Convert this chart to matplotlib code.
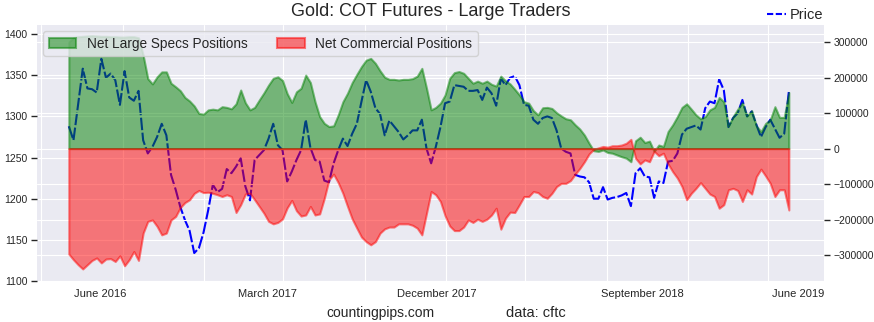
import numpy as np
import pandas as pd
import matplotlib
matplotlib.use('Agg')
import matplotlib.pyplot as plt
import matplotlib.dates as mdates
from matplotlib.ticker import NullFormatter
import seaborn as sns

# weekly COT readings, gold futures
price = [1288, 1271, 1315, 1358, 1334, 1333, 1329, 1370, 1347, 1352,
         1344, 1314, 1355, 1323, 1319, 1331, 1271, 1255, 1263, 1275,
         1291, 1277, 1229, 1211, 1190, 1174, 1161, 1134, 1140, 1159,
         1186, 1217, 1208, 1212, 1236, 1231, 1239, 1249, 1215, 1198,
         1247, 1253, 1259, 1273, 1291, 1265, 1259, 1221, 1233, 1247,
         1259, 1296, 1262, 1247, 1245, 1222, 1220, 1243, 1259, 1273,
         1264, 1279, 1291, 1318, 1344, 1330, 1310, 1303, 1277, 1295,
         1288, 1281, 1272, 1277, 1283, 1283, 1296, 1261, 1243, 1263,
         1287, 1316, 1318, 1338, 1337, 1336, 1331, 1331, 1332, 1320,
         1335, 1328, 1313, 1346, 1338, 1347, 1349, 1338, 1314, 1313,
         1296, 1291, 1298, 1300, 1298, 1283, 1261, 1257, 1255, 1229,
         1227, 1226, 1220, 1200, 1200, 1214, 1199, 1201, 1202, 1204,
         1207, 1191, 1231, 1237, 1227, 1226, 1201, 1221, 1219, 1245,
         1246, 1255, 1278, 1285, 1287, 1289, 1284, 1310, 1318, 1316,
         1345, 1332, 1287, 1298, 1304, 1320, 1300, 1306, 1290, 1275,
         1287, 1296, 1285, 1274, 1279, 1330]

large_specs = [300000, 312000, 315000, 316000, 317000, 318000, 317000, 316000, 316000, 315000,
               315000, 314000, 314000, 315000, 315000, 312000, 263000, 197000, 182000, 202000,
               216000, 216000, 184000, 174000, 163000, 144000, 134000, 120000, 99000, 97000,
               109000, 111000, 109000, 118000, 116000, 112000, 126000, 165000, 129000, 109000,
               116000, 137000, 157000, 179000, 198000, 202000, 192000, 155000, 130000, 160000,
               170000, 207000, 186000, 132000, 90000, 71000, 62000, 64000, 95000, 132000,
               156000, 186000, 209000, 231000, 249000, 254000, 240000, 219000, 201000, 195000,
               195000, 193000, 195000, 195000, 197000, 204000, 226000, 170000, 109000, 116000,
               128000, 151000, 198000, 214000, 217000, 212000, 198000, 184000, 190000, 184000,
               190000, 181000, 176000, 204000, 191000, 182000, 167000, 151000, 132000, 128000,
               107000, 95000, 115000, 116000, 113000, 101000, 92000, 84000, 81000, 67000,
               55000, 38000, 15000, -6000, -8000, -4000, -11000, -13000, -18000, -23000,
               -27000, -37000, 22000, 32000, 17000, 21000, -8000, 10000, 6000, 48000,
               67000, 90000, 116000, 126000, 111000, 95000, 84000, 90000, 109000, 116000,
               144000, 132000, 64000, 90000, 111000, 129000, 92000, 107000, 64000, 48000,
               71000, 81000, 118000, 88000, 88000, 158000]

commercials = [-297000, -313000, -327000, -339000, -327000, -315000, -308000, -322000, -311000, -310000,
               -318000, -302000, -330000, -313000, -290000, -315000, -238000, -205000, -201000, -219000,
               -243000, -238000, -201000, -191000, -166000, -152000, -144000, -126000, -118000, -124000,
               -123000, -126000, -130000, -135000, -130000, -135000, -180000, -158000, -128000, -126000,
               -144000, -163000, -182000, -205000, -212000, -208000, -198000, -167000, -146000, -175000,
               -190000, -187000, -163000, -187000, -184000, -140000, -88000, -72000, -96000, -126000,
               -163000, -198000, -224000, -249000, -262000, -271000, -262000, -238000, -226000, -221000,
               -221000, -212000, -212000, -212000, -216000, -224000, -243000, -182000, -121000, -130000,
               -149000, -189000, -218000, -231000, -231000, -221000, -201000, -208000, -199000, -205000,
               -199000, -187000, -168000, -227000, -196000, -179000, -180000, -158000, -135000, -135000,
               -121000, -124000, -135000, -140000, -126000, -107000, -98000, -98000, -90000, -72000,
               -56000, -37000, -15000, -2000, 2000, 6000, 4000, 8000, 8000, 10000,
               15000, 26000, -27000, -43000, -32000, -37000, -8000, -20000, -13000, -43000,
               -65000, -83000, -107000, -144000, -126000, -112000, -96000, -112000, -128000, -135000,
               -168000, -158000, -116000, -112000, -118000, -149000, -116000, -128000, -79000, -58000,
               -77000, -98000, -135000, -116000, -116000, -173000]

dates = pd.date_range('2016-06-12', periods=len(price), freq='7D')

label_dates = pd.to_datetime(['2016-07-30', '2017-04-07', '2017-12-18', '2018-10-24', '2019-06-16'])
label_text = ['June 2016', 'March 2017', 'December 2017', 'September 2018', 'June 2019']

sns.set_style('darkgrid')
plt.rcParams['font.family'] = ['Liberation Sans', 'DejaVu Sans']

fig = plt.figure(figsize=(8.74, 3.22), dpi=100)
ax1 = fig.add_axes([0.0423, 0.1273, 0.9005, 0.795])

ax1.plot(dates, price, color='blue', linestyle=(0, (6, 1.2)), linewidth=1.5, label='Price')
ax1.set_xlim(pd.Timestamp('2016-04-25'), pd.Timestamp('2019-07-25'))
ax1.set_ylim(1100, 1411)
ax1.set_yticks(np.arange(1100, 1401, 50))
ax1.tick_params(axis='y', left=True, length=4, width=1, color='#262626', labelsize=7.5, pad=3)

ax1.xaxis.set_major_locator(mdates.MonthLocator(bymonth=[1, 5, 9]))
ax1.xaxis.set_major_formatter(NullFormatter())
ax1.set_xticks(label_dates, label_text, minor=True)
ax1.tick_params(axis='x', which='both', length=0, labelsize=8, pad=6)

leg = ax1.legend(loc='lower right', bbox_to_anchor=(1.007, 0.99), frameon=False, fontsize=10.5,
                 borderaxespad=0, handlelength=1.3, handletextpad=0.3)
leg.get_lines()[0].set_linestyle((0, (3, 1.2)))

ax2 = ax1.twinx()
ax2.fill_between(dates, 0, large_specs, color='green', alpha=0.5, linewidth=1.5,
                 label='Net Large Specs Positions')
ax2.fill_between(dates, 0, commercials, color='red', alpha=0.5, linewidth=1.5,
                 label='Net Commercial Positions')
ax2.set_ylim(-373000, 348000)
ax2.set_yticks(np.arange(-300000, 300001, 100000))
ax2.tick_params(axis='y', right=True, length=4, width=1, color='#262626', labelsize=7.5, pad=3)
ax2.legend(loc='upper left', ncol=2, fontsize=9.8, framealpha=0.8, edgecolor='0.8',
           borderaxespad=0.45, columnspacing=2.2)

for s in list(ax1.spines.values()) + list(ax2.spines.values()):
    s.set_visible(False)

fig.text(0.4926, 0.963, 'Gold: COT Futures - Large Traders', ha='center', va='center', fontsize=13)
fig.text(380 / 874, 1 - 313 / 322, 'countingpips.com', ha='center', va='center', fontsize=10)
fig.text(536 / 874, 1 - 313 / 322, 'data: cftc', ha='center', va='center', fontsize=10.5)

fig.savefig('out.png', dpi=100)
